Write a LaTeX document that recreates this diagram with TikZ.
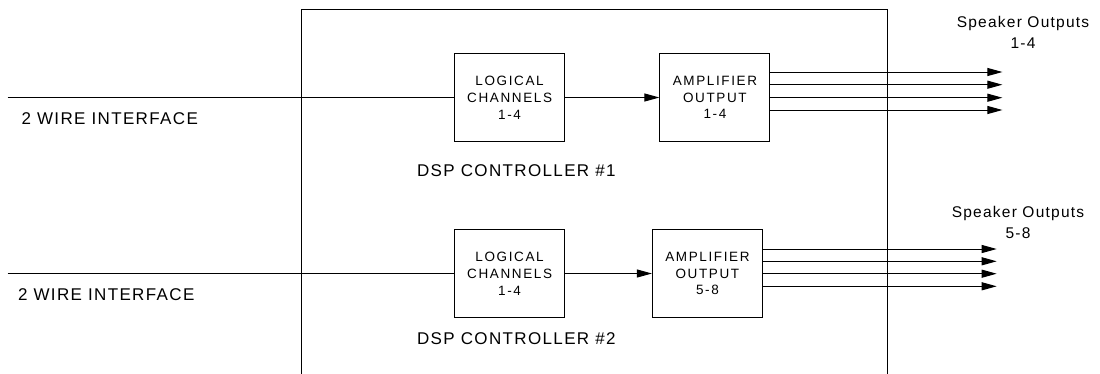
\documentclass[tikz,border=0pt]{standalone}
\usepackage{fontspec}
\setmainfont{Liberation Sans}
\newfontfamily\lblfont[LetterSpace=8]{Liberation Sans}
\newfontfamily\boxfont[LetterSpace=12]{Liberation Sans}
\usetikzlibrary{arrows.meta}

\begin{document}
\begin{tikzpicture}[x=1pt, y=-1pt,
    line width=1pt, >={Triangle[length=15pt,width=8pt]},
    blk/.style={draw,inner sep=0pt,minimum width=110pt,minimum height=88pt,
                align=center,font=\boxfont\fontsize{13.5}{16.8}\selectfont},
    lbl/.style={inner sep=0pt,anchor=west,font=\lblfont\fontsize{17}{20}\selectfont},
    spk/.style={inner sep=0pt,align=center,font=\lblfont\fontsize{15.5}{21}\selectfont}]
  \useasboundingbox (0,0) rectangle (1100,373);

  % housing, open below the page edge
  \node[draw,inner sep=0pt,minimum width=585.8pt,minimum height=420pt,
        anchor=north west] (dsp) at (300.9,9.3) {};

  % controller 1
  \node[blk] (log1) at (509.6,97.5) {LOGICAL\\CHANNELS\\1-4};
  \node[blk] (amp1) at (714.9,97.5) {AMPLIFIER\\OUTPUT\\1-4};
  \coordinate (in1) at (7.7,97.5);
  \coordinate (out1) at (1002.4,0);
  \draw (in1) -- (log1.west);
  \draw[->] (log1.east) -- (amp1.west);
  \foreach \y in {72,84.7,97.7,110}
    \draw[->] (amp1.east |- 0,\y) -- (out1 |- 0,\y);
  \node[lbl] (wire1) at (21,119) {2 WIRE INTERFACE};
  \node[lbl] (ctl1) at (416.6,170.7) {DSP CONTROLLER \#1};
  \node[spk] (spk1) at (1023,32) {Speaker Outputs\\1-4};

  % controller 2
  \node[blk] (log2) at (509.6,273.5) {LOGICAL\\CHANNELS\\1-4};
  \node[blk] (amp2) at (707.4,273.5) {AMPLIFIER\\OUTPUT\\5-8};
  \coordinate (in2) at (7.7,273.5);
  \coordinate (out2) at (996.7,0);
  \draw (in2) -- (log2.west);
  \draw[->] (log2.east) -- (amp2.west);
  \foreach \y in {249,261.3,273.7,286.3}
    \draw[->] (amp2.east |- 0,\y) -- (out2 |- 0,\y);
  \node[lbl] (wire2) at (17.5,295) {2 WIRE INTERFACE};
  \node[lbl] (ctl2) at (416.6,338.3) {DSP CONTROLLER \#2};
  \node[spk] (spk2) at (1018,222.8) {Speaker Outputs\\5-8};
\end{tikzpicture}
\end{document}
